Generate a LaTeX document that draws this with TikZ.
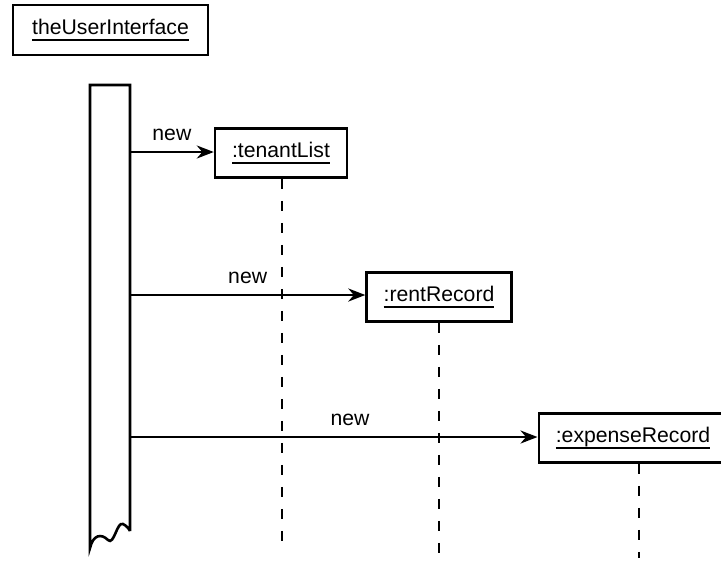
\documentclass[tikz,border=0pt]{standalone}
\usepackage{fontspec}
\setmainfont{Liberation Sans}
\usetikzlibrary{arrows.meta,positioning}

\newcommand{\uname}[1]{\setbox0\hbox{#1}\rlap{\rule[-3.6pt]{\wd0}{1.2pt}}\box0}

\begin{document}
\begin{tikzpicture}[x=0.5pt, y=-0.5pt,
    obj/.style={draw, line width=1.3pt, inner xsep=8.5pt, minimum height=24.5pt, font=\fontsize{10.6}{13}\selectfont},
    msg/.style={-{Stealth[length=8.5pt, width=6.5pt]}, line width=1.3pt},
    life/.style={line width=1.3pt, dash pattern=on 5pt off 6pt},
    lbl/.style={above, inner xsep=0pt, inner ysep=5pt, font=\fontsize{10.6}{13}\selectfont}
  ]
    \useasboundingbox (0,0) rectangle (721,564);

    \node[obj, inner xsep=9.5pt, minimum height=25pt] (ui) at (110.5,30) {\uname{theUserInterface}};
    \node[obj] (tenant) at (281,153) {\uname{:tenantList}};
    \node[obj] (rent) at (439,297) {\uname{:rentRecord}};
    \node[obj] (expense) at (633,438) {\uname{:expenseRecord}};

    % activation bar of the interface
    \draw[line width=1.3pt, line join=miter] (130,531) -- (130,85) -- (90,85) -- (90,548)
      .. controls (93,535) and (101,533) .. (108,540)
      .. controls (114,546) and (117,521) .. (123,524)
      .. controls (127,526) and (129,529) .. (130,531);
    \coordinate (m1) at (130,152);
    \coordinate (m2) at (130,295);
    \coordinate (m3) at (130,437);

    \draw[msg] (m1) -- node[lbl] {new} (m1 -| tenant.west);
    \draw[msg] (m2) -- node[lbl] {new} (m2 -| rent.west);
    \draw[msg] (m3) -- node[lbl, pos=0.54] {new} (m3 -| expense.west);

    % lifelines
    \coordinate (tenantEnd) at (282,551);
    \coordinate (rentEnd) at (439,564);
    \coordinate (expenseEnd) at (639,558);
    \draw[life] (tenantEnd |- tenant.south) -- (tenantEnd);
    \draw[life] (rentEnd |- rent.south) -- (rentEnd);
    \draw[life] (expenseEnd |- expense.south) -- (expenseEnd);
  \end{tikzpicture}
\end{document}
